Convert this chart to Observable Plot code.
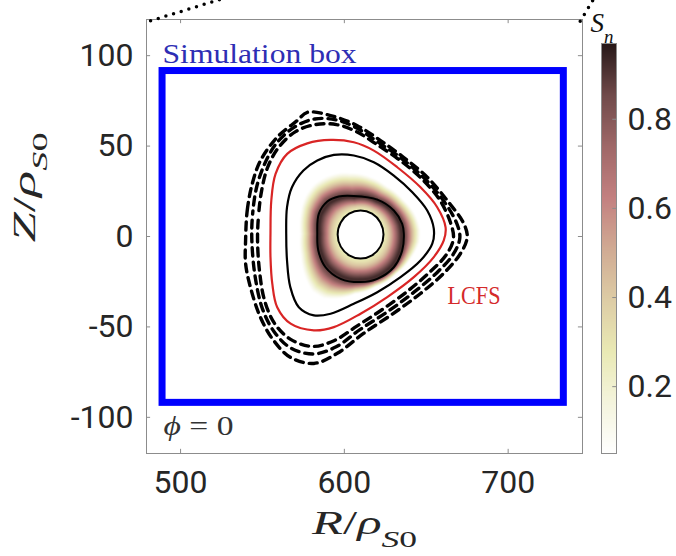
<!DOCTYPE html>
<html><head><meta charset="utf-8">
<script src="https://cdn.jsdelivr.net/npm/d3@7"></script>
<script src="https://cdn.jsdelivr.net/npm/@observablehq/plot@0.6"></script>
<style>
body{margin:0;background:#fff;}
#wrap{position:relative;width:676px;height:556px;}
#wrap svg{position:absolute;left:0;top:0;}
</style></head><body><div id="wrap"></div>
<script>
// ---- axes / ticks ----
const xDomain = [479.2, 745.4];
const yDomain = [-120, 120];
const xTicks = [500, 600, 700];
const yTicks = [-100, -50, 0, 50, 100];
const cbDomain = [0.05, 0.97];
const cbTicks = [0.2, 0.4, 0.6, 0.8];
// reversed MATLAB "pink" colormap (low -> high)
const pinkStops = ["#ffffff","rgb(244,244,221)","rgb(233,233,180)","rgb(221,204,165)","rgb(208,170,147)","rgb(195,128,128)","rgb(159,104,104)","rgb(112,74,74)","rgb(38,24,24)"];

// ---- simulation box ----
const simBox = [{R1: 489, R2: 734, Z1: -92, Z2: 91.5}];

// ---- contours [R, Z] ----
const axisCenter = [609.9, 1.1];
const innerCircle = [[623.9,1.1],[622.0,7.8],[616.9,12.6],[609.9,14.4],[602.9,12.6],[597.8,7.8],[595.9,1.1],[597.8,-5.6],[602.9,-10.4],[609.9,-12.2],[616.9,-10.4],[622.0,-5.6]];
const peakContour = [[605.6,22.4],[620.1,20.4],[630.2,14.4],[635.3,7.0],[636.3,1.5],[635.3,-7.7],[630.2,-17.0],[620.1,-23.4],[609.9,-25.2],[597.7,-23.4],[588.5,-17.0],[584.1,-7.7],[583.5,1.5],[584.4,12.5],[589.6,19.3],[596.6,22.1]];
const outerContour = [[564.5,1.5],[565.0,16.2],[568.0,27.2],[575.0,36.5],[583.5,42.0],[593.6,45.1],[605.8,44.8],[618.0,41.1],[630.2,33.7],[641.5,24.5],[650.6,14.4],[654.6,4.3],[653.7,-4.0],[646.5,-13.3],[634.3,-22.5],[620.1,-30.8],[605.8,-37.2],[591.6,-42.7],[581.4,-43.6],[572.2,-39.1],[567.0,-28.0],[565.0,-13.3]];
const lcfs = [[554.9,1.5],[555.4,19.9],[558.0,34.6],[565.1,45.7],[577.4,51.5],[591.6,53.4],[605.8,52.1],[618.0,47.5],[632.3,38.3],[646.5,27.2],[656.7,16.2],[661.8,5.1],[660.7,-2.2],[654.6,-11.4],[642.4,-22.5],[626.2,-33.5],[609.9,-42.7],[593.6,-50.1],[581.4,-51.9],[567.2,-48.2],[559.0,-39.1],[556.0,-26.1],[554.9,-11.4]];
const dashedInner = [[547.0,-2.2],[547.6,11.6],[549.5,25.4],[553.1,38.1],[559.8,49.2],[570.2,58.0],[582.4,61.9],[595.2,61.9],[607.4,58.0],[619.0,51.4],[632.5,43.1],[646.5,32.6],[658.1,20.4],[664.8,7.7],[666.6,-1.1],[662.4,-9.9],[652.6,-19.3],[639.2,-29.8],[623.3,-40.3],[607.4,-49.7],[594.0,-57.5],[580.6,-60.8],[567.2,-56.9],[557.4,-48.1],[551.3,-35.4],[548.3,-19.9]];
const dashedMiddle = [[543.5,-1.5],[544.0,12.5],[546.5,27.5],[551.5,40.5],[558.5,51.5],[569.5,60.5],[582.0,65.0],[595.0,64.5],[607.5,60.0],[620.0,52.5],[634.0,43.8],[648.5,32.5],[660.0,20.5],[668.5,7.5],[670.5,-0.8],[666.5,-9.8],[656.5,-20.0],[642.5,-30.8],[626.5,-41.5],[609.5,-51.5],[595.0,-61.0],[581.0,-65.0],[567.0,-61.5],[557.0,-52.5],[550.0,-40.0],[545.5,-22.0]];
const dashedOuter = [[539.7,-2.2],[540.7,14.4],[543.8,29.3],[548.8,42.0],[559.0,54.9],[571.2,64.1],[577.4,68.7],[591.6,66.9],[607.9,61.3],[622.1,53.0],[636.1,43.8],[650.6,32.8],[662.8,19.9],[673.0,7.0],[675.0,-0.4],[670.9,-9.4],[660.6,-20.4],[646.5,-31.5],[630.0,-42.5],[611.7,-53.6],[595.7,-64.6],[581.4,-70.2],[567.2,-66.9],[556.8,-57.5],[548.8,-44.8],[542.7,-28.2],[539.7,-14.9]];

// radial density profile: s = 0 at inner circle, 1 at peak contour, 2 at outer contour
const profileS = [0, 0.15, 0.3, 0.45, 0.6, 0.75, 0.88, 1.0, 1.1, 1.2, 1.3, 1.4, 1.5, 1.6];
const profileV = [0.25, 0.32, 0.42, 0.56, 0.72, 0.86, 0.93, 0.9, 0.78, 0.6, 0.43, 0.27, 0.12, 0.0];

// dotted zoom connectors (from the parent figure)
const connectorLeft = [[481.7,119.3],[525.6,131.5]];
const connectorRight = [[744.0,119.0],[752.0,131.0]];

// ---- labels ----
const labelSim = [{R: 489, Z: 101, t: "Simulation box"}];
const labelLcfs = [{R: 663, Z: -32.6, t: "LCFS"}];
const labelPhi = [{R: 489.6, Z: -105, t: "\u03D5 = 0"}];

// ---------- helpers ----------
const pinkInterp = d3.piecewise(d3.interpolateRgb, pinkStops);
const colorScale = {type: "linear", domain: cbDomain, interpolate: pinkInterp, clamp: true};
function toPolar(pts){
  return pts.map(([r,z]) => ({a: Math.atan2(z-axisCenter[1], r-axisCenter[0]), d: Math.hypot(r-axisCenter[0], z-axisCenter[1])}))
            .sort((p,q) => p.a - q.a);
}
function radiusAt(P, a){
  const n = P.length;
  for (let i = 0; i < n; i++){
    const p = P[i], q = P[(i+1)%n];
    const a0 = p.a; let a1 = q.a; if (i === n-1) a1 += 2*Math.PI;
    let aa = a; if (aa < a0) aa += 2*Math.PI;
    if (aa >= a0 && aa <= a1) return p.d + (q.d - p.d)*(aa - a0)/(a1 - a0);
  }
  return P[0].d;
}
const P0 = toPolar(innerCircle), P1 = toPolar(peakContour), P2 = toPolar(outerContour);
const prof = d3.scaleLinear().domain(profileS).range(profileV).clamp(true);
function densityAt(r, z){
  const a = Math.atan2(z-axisCenter[1], r-axisCenter[0]);
  const d = Math.hypot(r-axisCenter[0], z-axisCenter[1]);
  const r0 = radiusAt(P0,a);
  if (d < r0) return 0;
  const r1 = radiusAt(P1,a), r2 = radiusAt(P2,a);
  const s = d < r1 ? (d - r0)/(r1 - r0) : 1 + (d - r1)/(r2 - r1);
  return prof(s);
}
const X = d => d[0], Y = d => d[1];
const tickLen = 2.3, tickLenX = 2.5;
const frameGray = "#8c8c8c", textGray = "#262626";
const dashStyle = {x: X, y: Y, curve: "catmull-rom-closed", stroke: "black", strokeWidth: 3.4, strokeDasharray: "8,6"};

const main = Plot.plot({
  width: 676, height: 556,
  marginLeft: 146, marginRight: 94, marginTop: 19, marginBottom: 103,
  x: {domain: xDomain, axis: null},
  y: {domain: yDomain, axis: null},
  color: colorScale,
  style: {background: "transparent"},
  marks: [
    Plot.raster({fill: densityAt, x1: xDomain[0], x2: xDomain[1], y1: yDomain[0], y2: yDomain[1], pixelSize: 1}),
    Plot.rect(simBox, {x1: "R1", x2: "R2", y1: "Z1", y2: "Z2", fill: "none", stroke: "#0000ff", strokeWidth: 7}),
    Plot.line(dashedOuter, dashStyle),
    Plot.line(dashedMiddle, {...dashStyle, strokeDashoffset: 5}),
    Plot.line(dashedInner, {...dashStyle, strokeDashoffset: 9}),
    Plot.line(lcfs, {x: X, y: Y, curve: "catmull-rom-closed", stroke: "#d92525", strokeWidth: 2.2}),
    Plot.line(outerContour, {x: X, y: Y, curve: "catmull-rom-closed", stroke: "black", strokeWidth: 2.2}),
    Plot.line(peakContour, {x: X, y: Y, curve: "catmull-rom-closed", stroke: "black", strokeWidth: 2}),
    Plot.line(innerCircle, {x: X, y: Y, curve: "catmull-rom-closed", stroke: "black", strokeWidth: 2}),
    Plot.frame({stroke: frameGray}),
    Plot.ruleX(xTicks, {x: d => d, y1: yDomain[0], y2: yDomain[0] + tickLen, stroke: frameGray}),
    Plot.ruleX(xTicks, {x: d => d, y1: yDomain[1], y2: yDomain[1] - tickLen, stroke: frameGray}),
    Plot.ruleY(yTicks, {y: d => d, x1: xDomain[0], x2: xDomain[0] + tickLenX, stroke: frameGray}),
    Plot.ruleY(yTicks, {y: d => d, x1: xDomain[1], x2: xDomain[1] - tickLenX, stroke: frameGray}),
    Plot.text(xTicks, {x: d => d, text: d => String(d), frameAnchor: "bottom", lineAnchor: "middle", dy: 29, fontSize: 32, fontFamily: "Roboto", fill: textGray}),
    Plot.text(yTicks, {y: d => d, text: d => String(d), frameAnchor: "left", textAnchor: "end", dx: -13, fontSize: 32, fontFamily: "Roboto", fill: textGray}),
    Plot.text(["R/ρS0"], {frameAnchor: "bottom", dy: 80, fontSize: 33, fontFamily: "Liberation Serif", fill: textGray}),
    Plot.text(["Z/ρS0"], {frameAnchor: "left", dx: -121, dy: 6, rotate: -90, fontSize: 31, fontFamily: "Liberation Serif", fill: textGray}),
    Plot.text(labelSim, {x: "R", y: "Z", text: "t", textAnchor: "start", fontSize: 28, fontFamily: "Liberation Serif", fill: "#2e2eb4"}),
    Plot.text(labelLcfs, {x: "R", y: "Z", text: "t", textAnchor: "start", fontSize: 26, fontFamily: "Liberation Serif", fill: "#d42a2a"}),
    Plot.text(labelPhi, {x: "R", y: "Z", text: "t", textAnchor: "start", fontSize: 27, fontFamily: "Liberation Serif", fill: "#333"}),
    Plot.line(connectorLeft, {x: X, y: Y, stroke: "black", strokeWidth: 3.5, strokeDasharray: "0,8", strokeLinecap: "round"}),
    Plot.line(connectorRight, {x: X, y: Y, stroke: "black", strokeWidth: 3.5, strokeDasharray: "0,8", strokeLinecap: "round"})
  ]
});

const cb = Plot.plot({
  width: 676, height: 556,
  marginLeft: 601, marginRight: 60, marginTop: 43, marginBottom: 103,
  x: {domain: [0, 1], axis: null},
  y: {domain: cbDomain, axis: null},
  color: colorScale,
  style: {background: "transparent"},
  marks: [
    Plot.raster({fill: (x, y) => y, x1: 0, x2: 1, y1: cbDomain[0], y2: cbDomain[1], pixelSize: 1}),
    Plot.frame({stroke: frameGray}),
    Plot.ruleY(cbTicks, {y: d => d, x1: 0.75, x2: 1, stroke: frameGray}),
    Plot.text(cbTicks, {y: d => d, text: d => d.toFixed(1), frameAnchor: "right", textAnchor: "start", dx: 11, fontSize: 32, fontFamily: "Roboto", fill: textGray}),
    Plot.text(["Sn"], {frameAnchor: "top-left", textAnchor: "start", dx: -11, dy: -31, fontSize: 27, fontFamily: "Liberation Serif", fill: "#111"})
  ]
});

function rich(svg, key, parts, len){
  d3.select(svg).selectAll("text").filter(function(){ return this.textContent === key; }).each(function(){
    const t = d3.select(this); t.text(null);
    parts.forEach(p => {
      const s = t.append("tspan").text(p.t);
      if (p.i) s.attr("font-style", "italic");
      if (p.sub) s.attr("baseline-shift", "sub").attr("font-size", "70%");
    });
    if (len) t.attr("textLength", len).attr("lengthAdjust", "spacingAndGlyphs");
  });
}
rich(main, "R/ρS0", [{t:"R",i:1},{t:"/"},{t:"ρ",i:1},{t:"S",i:1,sub:1},{t:"0",sub:1}], 105);
rich(main, "Z/ρS0", [{t:"Z",i:1},{t:"/"},{t:"ρ",i:1},{t:"S",i:1,sub:1},{t:"0",sub:1}], 110);
rich(main, "\u03D5 = 0", [{t:"\u03D5",i:1},{t:" = 0"}], 70);
rich(main, "Simulation box", [{t:"Simulation box"}], 194);
rich(main, "LCFS", [{t:"LCFS"}], 53);
rich(cb, "Sn", [{t:"S",i:1},{t:"n",i:1,sub:1}], null);

const wrap = document.getElementById("wrap");
wrap.appendChild(main);
wrap.appendChild(cb);
</script></body></html>
